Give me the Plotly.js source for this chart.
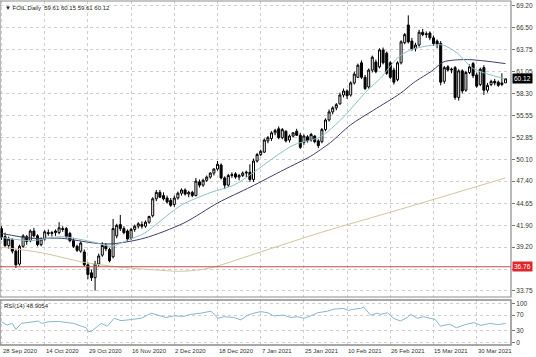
<!DOCTYPE html>
<html><head><meta charset="utf-8">
<script src="https://cdn.plot.ly/plotly-3.0.1.min.js"></script>
<style>html,body{margin:0;padding:0;background:#fff}#chart{width:536px;height:357px}</style>
</head><body><div id="chart"></div>
<script>
// ---- Price data (daily candles) ----
const openP=[41.5,40.5,39.4,40.1,38.7,37.1,39.3,40.5,40.0,41.2,40.6,39.5,40.2,41.0,40.9,41.0,41.0,41.5,41.5,40.9,
40.0,39.3,38.7,38.6,37.0,36.0,35.4,37.1,38.2,39.4,38.9,38.0,40.6,42.0,41.5,41.2,40.3,41.4,41.8,42.0,
41.8,42.3,43.1,45.2,46.0,45.6,45.3,45.0,44.5,45.3,45.9,46.3,45.8,46.0,45.6,47.3,46.9,47.5,47.9,48.4,
48.9,49.4,47.8,46.9,48.1,48.3,47.9,48.1,48.4,48.5,47.6,49.9,50.7,51.0,52.4,52.7,53.4,53.9,52.8,53.6,
52.5,53.0,53.6,53.1,52.2,52.9,52.5,53.0,52.4,52.3,53.8,55.0,56.0,56.5,57.0,58.1,58.6,58.1,59.6,60.3,
62.1,60.3,59.1,61.2,62.2,61.6,63.7,63.3,62.1,61.2,60.0,62.1,64.6,66.8,64.8,63.9,64.3,65.9,65.6,65.8,
65.2,64.8,64.5,59.8,61.6,61.2,61.5,57.8,61.1,58.7,60.9,62.0,60.6,59.4,61.5,58.7,59.4,59.8,59.7,59.4,59.61];
const highP=[41.8,41.0,40.5,40.3,38.9,39.5,40.8,40.7,41.4,41.6,40.8,40.4,41.3,41.4,41.2,41.4,42.3,41.8,41.7,41.1,
40.3,39.5,39.9,38.9,37.3,36.4,37.5,38.4,39.8,39.7,39.1,42.7,42.1,43.2,41.8,41.4,41.6,42.0,42.3,42.4,
42.5,43.1,45.4,46.3,46.3,46.0,45.6,45.3,45.6,46.1,46.5,46.5,46.2,46.2,47.8,47.6,47.7,48.1,48.5,49.0,
49.9,49.6,48.0,48.3,48.5,48.5,48.3,48.6,48.7,49.5,50.2,50.9,51.3,52.7,53.0,53.6,53.9,54.2,54.0,53.7,
53.2,53.5,53.9,53.4,53.2,53.1,53.4,53.1,52.6,54.0,55.2,56.3,56.7,57.1,58.4,58.9,58.8,59.8,61.0,62.0,
62.4,60.6,61.4,63.0,62.5,63.9,64.0,63.5,62.3,61.5,62.3,64.9,65.8,68.0,65.2,64.6,66.2,66.3,66.0,66.0,
65.5,65.0,64.8,61.7,61.8,61.5,61.7,61.3,61.3,61.1,61.9,62.2,60.9,61.5,61.8,59.6,60.0,60.1,59.9,60.8,60.15];
const lowP=[40.1,39.2,39.0,38.4,36.6,36.9,39.1,39.5,39.8,40.4,39.3,39.3,40.0,40.6,40.5,40.6,40.8,41.1,40.3,39.8,
39.1,38.6,38.5,36.8,35.2,35.0,33.8,36.8,38.0,38.7,37.3,37.8,40.3,41.2,40.8,39.9,40.1,41.1,41.5,41.5,
41.6,42.1,42.9,44.9,45.3,45.0,44.6,44.2,44.2,45.1,45.6,45.6,45.4,45.4,45.5,46.6,46.7,47.3,47.7,48.1,
48.7,47.6,46.4,46.7,47.8,47.7,47.5,47.9,47.9,47.3,47.3,49.7,50.5,50.9,52.1,52.4,53.1,52.6,52.6,52.2,
52.2,52.8,53.0,51.4,51.9,52.2,52.3,52.1,51.5,52.1,53.6,54.8,55.7,56.2,56.9,57.8,57.6,57.9,59.4,60.2,
60.1,58.7,58.9,60.9,60.8,61.4,61.9,60.6,60.1,59.4,59.8,61.9,64.4,64.5,63.6,63.5,64.1,65.4,65.2,64.9,
64.2,63.9,59.3,59.5,61.0,60.8,57.5,57.4,58.3,58.5,60.7,60.2,59.0,59.2,58.1,58.4,59.2,59.3,59.1,59.2,59.61];
const closeP=[40.4,39.4,40.2,38.7,37.0,39.3,40.6,39.9,41.2,40.6,39.5,40.2,41.1,40.9,41.0,41.2,41.6,41.4,40.5,40.0,
39.3,38.8,39.7,37.0,35.8,35.4,37.1,38.1,39.4,39.0,37.5,41.5,41.9,41.5,41.0,40.2,41.4,41.8,42.1,41.8,
42.3,43.0,45.2,46.0,45.4,45.2,44.8,44.4,45.3,45.9,46.3,45.8,46.0,45.6,47.4,46.9,47.5,47.9,48.4,48.9,
49.5,47.8,46.9,48.1,48.2,47.9,48.1,48.4,48.5,47.6,49.9,50.7,51.1,52.5,52.8,53.4,53.7,52.8,53.8,52.4,
53.0,53.4,53.1,51.6,53.0,52.4,53.2,52.3,51.8,53.8,55.0,56.0,56.5,56.9,58.1,58.6,58.0,59.6,60.7,61.8,
60.3,58.9,61.2,62.8,61.0,63.7,62.1,60.8,60.3,59.7,62.1,64.7,65.6,64.7,63.8,64.3,65.9,65.6,65.7,65.2,
64.5,64.4,59.7,61.5,61.2,61.3,57.8,61.1,58.6,60.9,61.6,60.5,59.2,61.3,58.7,59.3,59.8,59.6,59.3,59.6,60.12];

// ---- Moving averages (read at points along each line) ----
const fastBars=[0,8.3,16.6,25.8,30.5,35.2,39.6,44.3,49.9,58.2,64.5,70.1,75.6,81.2,85.9,88.6,94.2,101.7,105.3,110,113.6,119.9,122.7,126.6,131,140];
const fastVals=[40.4,40.0,40.5,39.8,39.3,40.1,40.9,42.5,44.4,46.0,46.9,48.5,50.3,51.9,52.5,52.9,55.0,58.7,60.2,62.7,63.7,64.3,64.3,63.3,61.4,60.1];
const slowBars=[0,8.3,16.6,25.8,30.5,39.6,50.7,60.1,69.3,78.4,85.9,88.6,91.4,97,103.3,110.8,114.4,119.9,122.7,129.4,140];
const slowVals=[40.9,40.3,40.3,39.7,39.6,40.3,42.2,44.7,46.7,48.8,50.5,51.3,52.2,54.4,56.2,58.3,59.6,61.2,62.2,62.5,62.0];
const longBars=[0,11.1,23,33.2,41.6,49.9,55.4,59.6,72,88.6,110.8,140];
const longVals=[39.2,38.5,37.3,36.7,36.4,36.2,36.4,36.8,38.6,41.0,43.9,47.8];

// ---- RSI(14) ----
const rsiBars=[0,1.5,3,4,5.5,8.5,10.3,11.1,13,15.8,18.6,20,22.2,23.5,24.2,25,27.7,29.4,31.3,33.2,35.2,38.8,41.6,43.5,45.7,47.9,50.7,52.6,55.4,58.2,60.1,61.8,64.5,66.5,68.4,70.1,72,74,75.6,78.4,80.3,82.3,84,85.9,87.8,90.6,92.2,95,96.4,97.8,99.7,100.6,102.5,104.4,105.3,107.2,108.9,110.8,112.7,113.6,115.5,117.2,119.1,120.5,121.9,124.4,126.4,128.8,131.2,133.2,135.6,138,140];
const rsiVals=[53,45,49,34,49,53,55,49,53,54,51,49,42,38,28,29,49,42,62,56,58,62,75,70,64,68,67,72,75,80,62,66,64,58,70,75,79,76,68,70,64,66,62,68,76,80,85,87,82,85,87,91,70,75,72,76,62,55,64,72,62,66,62,59,42,47,38,46,51,44,49,46,48.9];

// ---- Axis labels / levels ----
const dateLabels=['28 Sep 2020','14 Oct 2020','29 Oct 2020','16 Nov 2020','2 Dec 2020','18 Dec 2020','7 Jan 2021','25 Jan 2021','10 Feb 2021','26 Feb 2021','15 Mar 2021','30 Mar 2021'];
const labelBars=[0,12,24,36,48,60,72,84,96,108,120,132];
const priceTicks=[33.75,36.45,39.20,41.90,44.65,47.40,50.10,52.85,55.55,58.30,61.05,63.75,66.50,69.20];
const rsiTicks=[0,30,70,100];
const lastPrice=60.12;
const levelPrice=36.76;
const headerText='\u25BC FOIL,Daily  59.61 60.15 59.61 60.12';
const rsiText='RSI(14) 48.9054';

const idx=closeP.map((_,i)=>i);
const FONT='Liberation Sans, Arial, sans-serif';
const grid='#cfcfcf';

const traces=[
 {type:'candlestick',x:idx,open:openP,high:highP,low:lowP,close:closeP,xaxis:'x',yaxis:'y',
  increasing:{line:{color:'#000',width:1},fillcolor:'#ffffff'},
  decreasing:{line:{color:'#000',width:1},fillcolor:'#000000'},
  whiskerwidth:0,hoverinfo:'skip',showlegend:false},
 {type:'scatter',mode:'lines',x:longBars,y:longVals,xaxis:'x',yaxis:'y',line:{color:'#d6c2a2',width:1,shape:'spline',smoothing:0.8},hoverinfo:'skip'},
 {type:'scatter',mode:'lines',x:slowBars,y:slowVals,xaxis:'x',yaxis:'y',line:{color:'#3e3e6a',width:1,shape:'spline',smoothing:0.8},hoverinfo:'skip'},
 {type:'scatter',mode:'lines',x:fastBars,y:fastVals,xaxis:'x',yaxis:'y',line:{color:'#8fc0c4',width:1,shape:'spline',smoothing:0.8},hoverinfo:'skip'},
 {type:'scatter',mode:'lines',x:rsiBars,y:rsiVals,xaxis:'x',yaxis:'y2',line:{color:'#86b7cc',width:1},hoverinfo:'skip'}
];

const mainBottom=0.1395, rsiTop=0.1308;
const dateAnnots=labelBars.map((b,i)=>({xref:'x',yref:'paper',x:b,y:0,xanchor:'left',yanchor:'top',
  xshift:-1,yshift:-1,showarrow:false,text:dateLabels[i],font:{family:FONT,size:6,color:'#333'}}));

const layout={
 width:536,height:357,margin:{l:0,r:25,t:1,b:12},
 paper_bgcolor:'#fff',plot_bgcolor:'#fff',showlegend:false,hovermode:false,boxgap:0.2,
 font:{family:FONT,size:6.5,color:'#333'},
 xaxis:{domain:[0,1],range:[-0.417,141.53],anchor:'y2',tickvals:labelBars,showticklabels:false,
   ticks:'',showgrid:true,gridcolor:grid,griddash:'dot',gridwidth:1,
   zeroline:false,showline:false,rangeslider:{visible:false}},
 yaxis:{domain:[mainBottom,1],range:[33.0,69.78],side:'right',anchor:'x',tickvals:priceTicks,
   ticktext:priceTicks.map(v=>Math.abs(v-36.45)<0.01?'':v.toFixed(2)),ticks:'outside',ticklen:3,tickcolor:'#777',
   showgrid:true,gridcolor:grid,griddash:'dot',gridwidth:1,zeroline:false,showline:false,
   tickfont:{family:FONT,size:6.5,color:'#333'}},
 yaxis2:{domain:[0,rsiTop],range:[-5.8,108.4],side:'right',anchor:'x',tickvals:rsiTicks,
   ticktext:rsiTicks.map(String),ticks:'outside',ticklen:3,tickcolor:'#777',
   showgrid:true,gridcolor:grid,griddash:'dot',gridwidth:1,zeroline:false,showline:false,
   tickfont:{family:FONT,size:6.5,color:'#333'}},
 shapes:[
  {type:'rect',xref:'paper',yref:'paper',x0:0,x1:1,y0:mainBottom,y1:1,line:{color:'#8c8c8c',width:1.2},fillcolor:'rgba(0,0,0,0)'},
  {type:'rect',xref:'paper',yref:'paper',x0:0,x1:1,y0:0,y1:rsiTop,line:{color:'#8c8c8c',width:1.5},fillcolor:'rgba(0,0,0,0)'},
  {type:'line',xref:'paper',yref:'y',x0:0,x1:1,y0:levelPrice,y1:levelPrice,line:{color:'#c0504d',width:1}}
 ],
 annotations:[
  {xref:'paper',yref:'paper',x:0.006,y:0.995,xanchor:'left',yanchor:'top',showarrow:false,text:headerText,
   font:{family:FONT,size:6,color:'#222'}},
  {xref:'paper',yref:'paper',x:0.004,y:0.127,xanchor:'left',yanchor:'top',showarrow:false,text:rsiText,
   font:{family:FONT,size:6,color:'#222'}},
  {xref:'paper',yref:'y',x:1,y:lastPrice,xanchor:'left',yanchor:'middle',xshift:1,showarrow:false,text:lastPrice.toFixed(2),
   bgcolor:'#000',borderpad:1,font:{family:FONT,size:6.5,color:'#fff'}},
  {xref:'paper',yref:'y',x:1,y:levelPrice,xanchor:'left',yanchor:'middle',xshift:1,showarrow:false,text:levelPrice.toFixed(2),
   bgcolor:'#e1262b',borderpad:1,font:{family:FONT,size:6.5,color:'#fff'}}
 ].concat(dateAnnots)
};
Plotly.newPlot('chart',traces,layout,{staticPlot:true,displayModeBar:false});
</script></body></html>
